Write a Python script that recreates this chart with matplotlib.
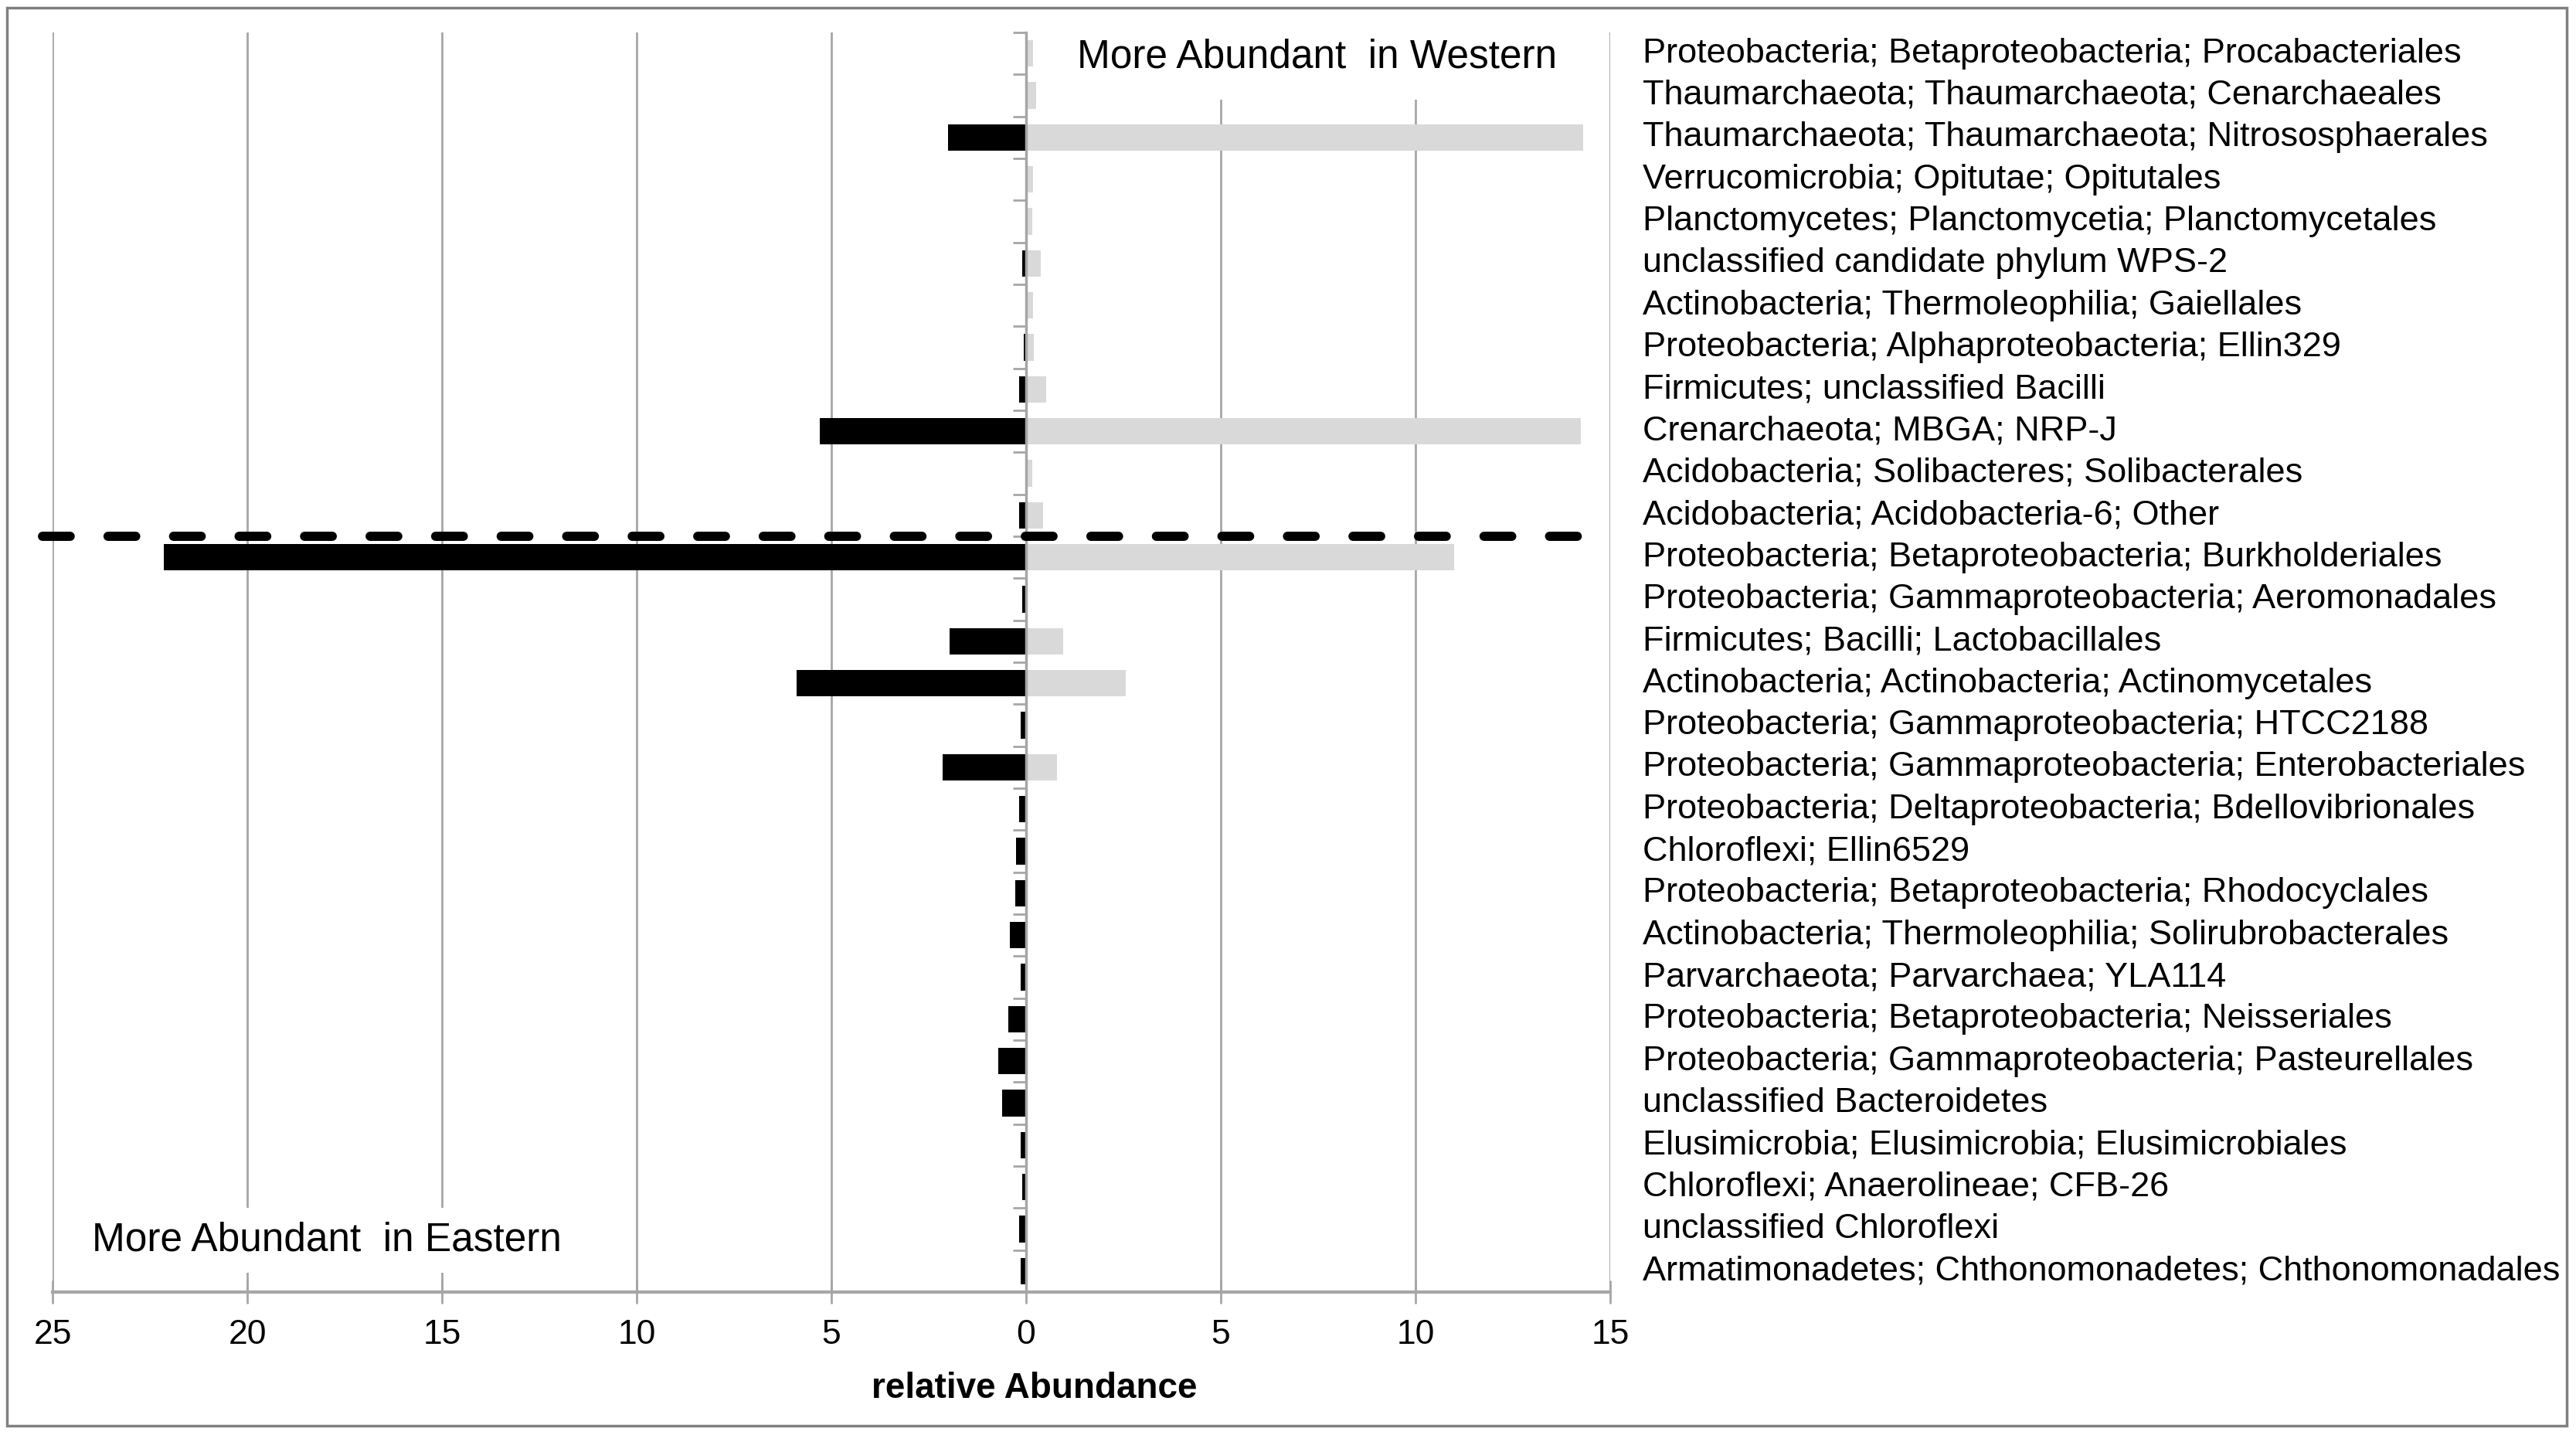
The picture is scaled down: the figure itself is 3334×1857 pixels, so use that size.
import numpy as np
import matplotlib
matplotlib.use("Agg")
import matplotlib.pyplot as plt
from matplotlib.patches import Rectangle
from matplotlib.transforms import blended_transform_factory

plt.rcParams['font.family'] = ['Liberation Sans', 'DejaVu Sans']

# taxa, top to bottom
taxa = [
    "Proteobacteria; Betaproteobacteria; Procabacteriales",
    "Thaumarchaeota; Thaumarchaeota; Cenarchaeales",
    "Thaumarchaeota; Thaumarchaeota; Nitrososphaerales",
    "Verrucomicrobia; Opitutae; Opitutales",
    "Planctomycetes; Planctomycetia; Planctomycetales",
    "unclassified candidate phylum WPS-2",
    "Actinobacteria; Thermoleophilia; Gaiellales",
    "Proteobacteria; Alphaproteobacteria; Ellin329",
    "Firmicutes; unclassified Bacilli",
    "Crenarchaeota; MBGA; NRP-J",
    "Acidobacteria; Solibacteres; Solibacterales",
    "Acidobacteria; Acidobacteria-6; Other",
    "Proteobacteria; Betaproteobacteria; Burkholderiales",
    "Proteobacteria; Gammaproteobacteria; Aeromonadales",
    "Firmicutes; Bacilli; Lactobacillales",
    "Actinobacteria; Actinobacteria; Actinomycetales",
    "Proteobacteria; Gammaproteobacteria; HTCC2188",
    "Proteobacteria; Gammaproteobacteria; Enterobacteriales",
    "Proteobacteria; Deltaproteobacteria; Bdellovibrionales",
    "Chloroflexi; Ellin6529",
    "Proteobacteria; Betaproteobacteria; Rhodocyclales",
    "Actinobacteria; Thermoleophilia; Solirubrobacterales",
    "Parvarchaeota; Parvarchaea; YLA114",
    "Proteobacteria; Betaproteobacteria; Neisseriales",
    "Proteobacteria; Gammaproteobacteria; Pasteurellales",
    "unclassified Bacteroidetes",
    "Elusimicrobia; Elusimicrobia; Elusimicrobiales",
    "Chloroflexi; Anaerolineae; CFB-26",
    "unclassified Chloroflexi",
    "Armatimonadetes; Chthonomonadetes; Chthonomonadales",
]

# relative abundance (%), eastern drawn to the left
eastern = [0, 0, 2.0, 0, 0, 0.10, 0, 0.07, 0.17, 5.3, 0, 0.17,
           22.15, 0.10, 1.97, 5.9, 0.14, 2.14, 0.17, 0.25, 0.28, 0.42,
           0.14, 0.45, 0.72, 0.62, 0.14, 0.10, 0.17, 0.14]
western = [0.18, 0.25, 14.3, 0.18, 0.15, 0.38, 0.18, 0.20, 0.52, 14.25, 0.15, 0.44,
           11.0, 0, 0.96, 2.55, 0.03, 0.80, 0.03, 0.03, 0.03, 0.03,
           0.02, 0.03, 0.03, 0.02, 0.03, 0.02, 0.02, 0.02]

xticks = [-25, -20, -15, -10, -5, 0, 5, 10, 15]
split_after = 12  # dashed separator below this many rows

fig = plt.figure(figsize=(33.34, 18.57), dpi=100)
ax = fig.add_axes([0.0204, 0.0996, 0.6047, 0.8778])

y = np.arange(len(taxa))
ax.barh(y, -np.array(eastern), height=0.63, color='black', zorder=3)
ax.barh(y, western, height=0.63, color='#d9d9d9', zorder=3)

ax.set_xlim(-25, 15)
ax.set_ylim(len(taxa) - 0.5, -0.5)

gcol = '#a6a6a6'
ax.set_xticks(xticks)
ax.set_xticklabels([str(abs(t)) for t in xticks], fontsize=32)
ax.tick_params(axis='x', direction='inout', length=22, width=2, color=gcol, pad=14)
ax.set_yticks([])
ax.set_yticks(np.arange(len(taxa) + 1) - 0.5, minor=True)
ax.tick_params(axis='y', which='minor', direction='out', length=12, width=2, color=gcol)
ax.grid(axis='x', color=gcol, lw=2, zorder=0)

for s in ['top', 'right']:
    ax.spines[s].set_visible(False)
ax.spines['bottom'].set_color(gcol)
ax.spines['bottom'].set_linewidth(3)
ax.spines['left'].set_position(('data', 0))
ax.spines['left'].set_color(gcol)
ax.spines['left'].set_linewidth(2.5)
ax.spines['left'].set_zorder(4)

# dashed separator
ax.plot([-25.25, 14.25], [split_after - 0.5] * 2, color='black', lw=8.6,
        ls=(0, (3.0, 4.1)), dash_capstyle='round', clip_on=False, zorder=5)

# category labels on the right
lab_tr = blended_transform_factory(fig.transFigure, ax.transData)
for i, t in enumerate(taxa):
    ax.text(0.6377, i, t, transform=lab_tr, fontsize=32.5, va='center', ha='left')

fig.text(0.5114, 1 - 74 / 1857, "More Abundant  in Western", fontsize=37,
         ha='center', va='center', zorder=6,
         bbox=dict(boxstyle='square,pad=0.6', fc='white', ec='none'))
fig.text(0.1269, 1 - 1605 / 1857, "More Abundant  in Eastern", fontsize=37,
         ha='center', va='center', zorder=6,
         bbox=dict(boxstyle='square,pad=0.35', fc='white', ec='none'))

fig.text(0.4016, 0.0323, "relative Abundance", fontsize=33, fontweight='bold',
         ha='center', va='center')

fig.patches.append(Rectangle((0.0027, 0.0065), 0.9937, 0.9881, transform=fig.transFigure,
                             fill=False, ec='#808080', lw=2.5))

fig.savefig("out.png", dpi=100)
